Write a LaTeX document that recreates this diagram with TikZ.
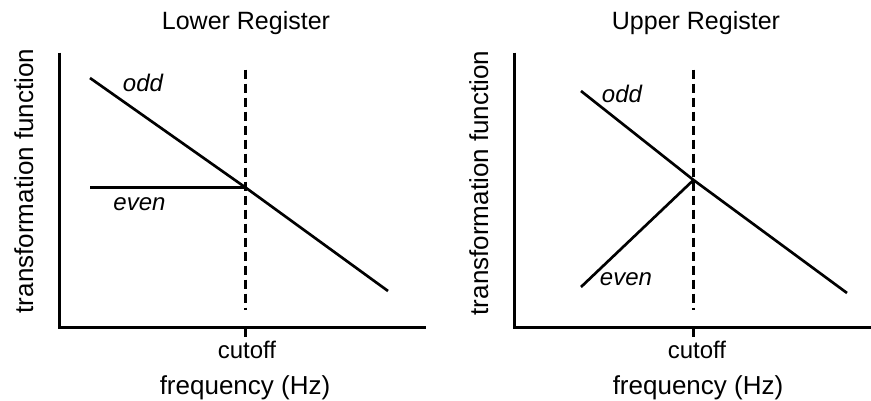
\documentclass[tikz,border=0pt]{standalone}
\usepackage{fontspec}
\setmainfont{Liberation Sans}
\begin{document}
\begin{tikzpicture}[x=.75pt,y=-.75pt,line width=2pt,
		ttl/.style={font=\fontsize{18.75}{20}\selectfont,anchor=base},
		axlbl/.style={font=\fontsize{19.5}{21}\selectfont,anchor=base},
		lbl/.style={font=\fontsize{18}{20}\selectfont,anchor=base},
		crv/.style={font=\fontsize{18}{20}\selectfont\itshape,anchor=base},
		cut/.style={dash pattern=on 6.75pt off 3.75pt}]
		\useasboundingbox (0,0) rectangle (871,400);
		% lower register
		\coordinate (lc) at (245.5,187.5);
		\draw (59.5,52.5)--(59.5,327.5)--(426,327.5);
		\draw (245.5,327.5)--++(0,9.5);
		\draw[cut] (245.5,69.5)--(245.5,310);
		\draw (90,78)--(lc)--(388,291);
		\draw (90,187.5)--(lc);
		\node[ttl] (lt) at (246,29.5) {Lower Register};
		\node[crv] (lodd) at (143,91) {odd};
		\node[crv] (leven) at (139.5,210) {even};
		\node[lbl] (lcut) at (247,358) {cutoff};
		\node[axlbl] (lfreq) at (245,394) {frequency (Hz)};
		\node[axlbl,rotate=90] (ltf) at (33,181) {transformation function};
		% upper register
		\coordinate (uc) at (693.5,180);
		\draw (514.5,52.5)--(514.5,327.5)--(871,327.5);
		\draw (693.5,327.5)--++(0,9.5);
		\draw[cut] (693.5,69.5)--(693.5,310);
		\draw (581,91)--(uc)--(847,293);
		\draw (581,287)--(uc);
		\node[ttl] (ut) at (696,29.5) {Upper Register};
		\node[crv] (uodd) at (622,102) {odd};
		\node[crv] (ueven) at (626,285) {even};
		\node[lbl] (ucut) at (697,358) {cutoff};
		\node[axlbl] (ufreq) at (698,394) {frequency (Hz)};
		\node[axlbl,rotate=90] (utf) at (488,183) {transformation function};
	\end{tikzpicture}
\end{document}
